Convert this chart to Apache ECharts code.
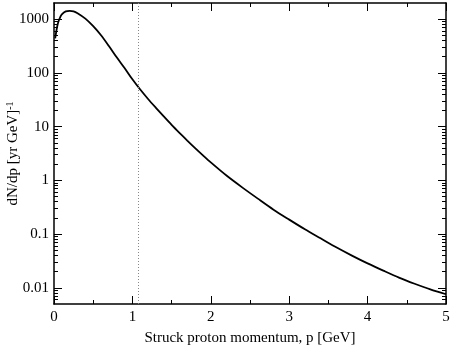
<!DOCTYPE html>
<html>
<head>
<meta charset="utf-8">
<script src="https://cdn.jsdelivr.net/npm/echarts@6/dist/echarts.min.js"></script>
<style>
  html, body { margin: 0; padding: 0; background: #fff; }
  #chart { width: 450px; height: 348px; }
</style>
</head>
<body>
<div id="chart"></div>
<script>
// momentum [GeV] and dN/dp [1/(yr GeV)]
const momentum = [0.015, 0.04, 0.06, 0.08, 0.10, 0.15, 0.20, 0.25, 0.30, 0.40, 0.50,
                  0.60, 0.70, 0.80, 0.90, 1.00, 1.10, 1.20, 1.30, 1.40, 1.50,
                  1.60, 1.70, 1.80, 1.90, 2.00, 2.20, 2.40, 2.60, 2.80, 3.00,
                  3.20, 3.40, 3.60, 3.80, 4.00, 4.20, 4.40, 4.60, 4.80, 5.00];
const rate = [440, 724, 933, 1096, 1230, 1396, 1429, 1396, 1288, 1023, 741,
              501, 316, 195, 123, 75.9, 49.0, 32.7, 22.4, 15.5, 10.8,
              7.67, 5.50, 3.98, 2.92, 2.16, 1.23, 0.741, 0.457, 0.285, 0.186,
              0.123, 0.0836, 0.0568, 0.0398, 0.0285, 0.0209, 0.0155, 0.0119, 0.00933, 0.00759];
const cutMomentum = 1.067;

const xTicks = [0, 1, 2, 3, 4, 5];
const yMin = 0.005, yMax = 2000;
const yDecades = [-2, -1, 0, 1, 2, 3];
const yTickLabels = ['0.01', '0.1', '1', '10', '100', '1000'];
const yMinorMult = [2, 3, 4, 5, 6, 7, 8, 9];

const FONT = 'Liberation Serif';
const FS = 15;
const lgMin = Math.log10(yMin), lgMax = Math.log10(yMax);

let minorPos = [];
for (let d = -3; d <= 3; d++) {
    yMinorMult.forEach(m => {
        const v = d + Math.log10(m);
        if (v > lgMin && v < lgMax) minorPos.push(v);
    });
}

const chart = echarts.init(document.getElementById('chart'));

// extra value axes (log10 space) that only carry ticks / labels
const tickAxis = (pos, values, len, labels) => ({
    type: 'value',
    position: pos,
    min: lgMin,
    max: lgMax,
    axisLine: {show: false},
    splitLine: {show: false},
    axisTick: {show: true, inside: true, length: len, customValues: values,
        lineStyle: {color: '#000', width: 1}},
    axisLabel: labels ? {
        show: true, customValues: yDecades, margin: 5,
        fontFamily: FONT, fontSize: FS, color: '#000',
        formatter: v => yTickLabels[yDecades.indexOf(Math.round(v))]
    } : {show: false}
});

const xAxisBase = (pos, showLabels) => ({
    type: 'value',
    position: pos,
    min: xTicks[0],
    max: xTicks[xTicks.length - 1],
    interval: 1,
    axisLine: {show: true, onZero: false, lineStyle: {color: '#000', width: 1.5}},
    axisTick: {show: true, inside: true, length: 8, lineStyle: {color: '#000', width: 1}},
    minorTick: {show: true, splitNumber: 2, length: 4, lineStyle: {color: '#000', width: 1}},
    splitLine: {show: false},
    axisLabel: {show: showLabels, margin: 6, fontFamily: FONT, fontSize: FS, color: '#000'}
});

const option = {
    animation: false,
    backgroundColor: '#fff',
    grid: {left: 54, right: 4, top: 3, bottom: 44, containLabel: false, outerBoundsMode: 'none'},
    xAxis: [
        Object.assign(xAxisBase('bottom', true), {
            name: 'Struck proton momentum, p [GeV]',
            nameLocation: 'middle',
            nameGap: 27,
            nameTextStyle: {fontFamily: FONT, fontSize: FS, color: '#000'}
        }),
        xAxisBase('top', false)
    ],
    yAxis: [
        {
            type: 'log',
            position: 'left',
            min: yMin,
            max: yMax,
            axisLine: {show: true, onZero: false, lineStyle: {color: '#000', width: 1.5}},
            axisTick: {show: false},
            axisLabel: {show: false},
            splitLine: {show: false},
            name: '{a|dN/dp [yr GeV]}{s|-1}',
            nameLocation: 'middle',
            nameGap: 32,
            nameRotate: 90,
            nameTextStyle: {
                fontFamily: FONT, fontSize: FS, color: '#000',
                rich: {
                    a: {fontFamily: FONT, fontSize: FS, color: '#000', lineHeight: 17},
                    s: {fontFamily: FONT, fontSize: 10, color: '#000', verticalAlign: 'top', lineHeight: 17, padding: [0, 0, 7, 0]}
                }
            }
        },
        {
            type: 'log',
            position: 'right',
            min: yMin,
            max: yMax,
            axisLine: {show: true, onZero: false, lineStyle: {color: '#000', width: 1.5}},
            axisTick: {show: false},
            axisLabel: {show: false},
            splitLine: {show: false}
        },
        tickAxis('left', yDecades, 8, true),
        tickAxis('left', minorPos, 4, false),
        tickAxis('right', yDecades, 8, false),
        tickAxis('right', minorPos, 4, false)
    ],
    series: [
        {
            type: 'line',
            xAxisIndex: 0,
            yAxisIndex: 0,
            data: momentum.map((p, i) => [p, rate[i]]),
            smooth: 0.3,
            showSymbol: false,
            lineStyle: {color: '#000', width: 1.8},
            markLine: {
                silent: true,
                symbol: ['none', 'none'],
                label: {show: false},
                lineStyle: {color: '#888', type: [1, 2], width: 1},
                data: [{xAxis: cutMomentum}]
            }
        }
    ]
};
chart.setOption(option);
</script>
</body>
</html>
